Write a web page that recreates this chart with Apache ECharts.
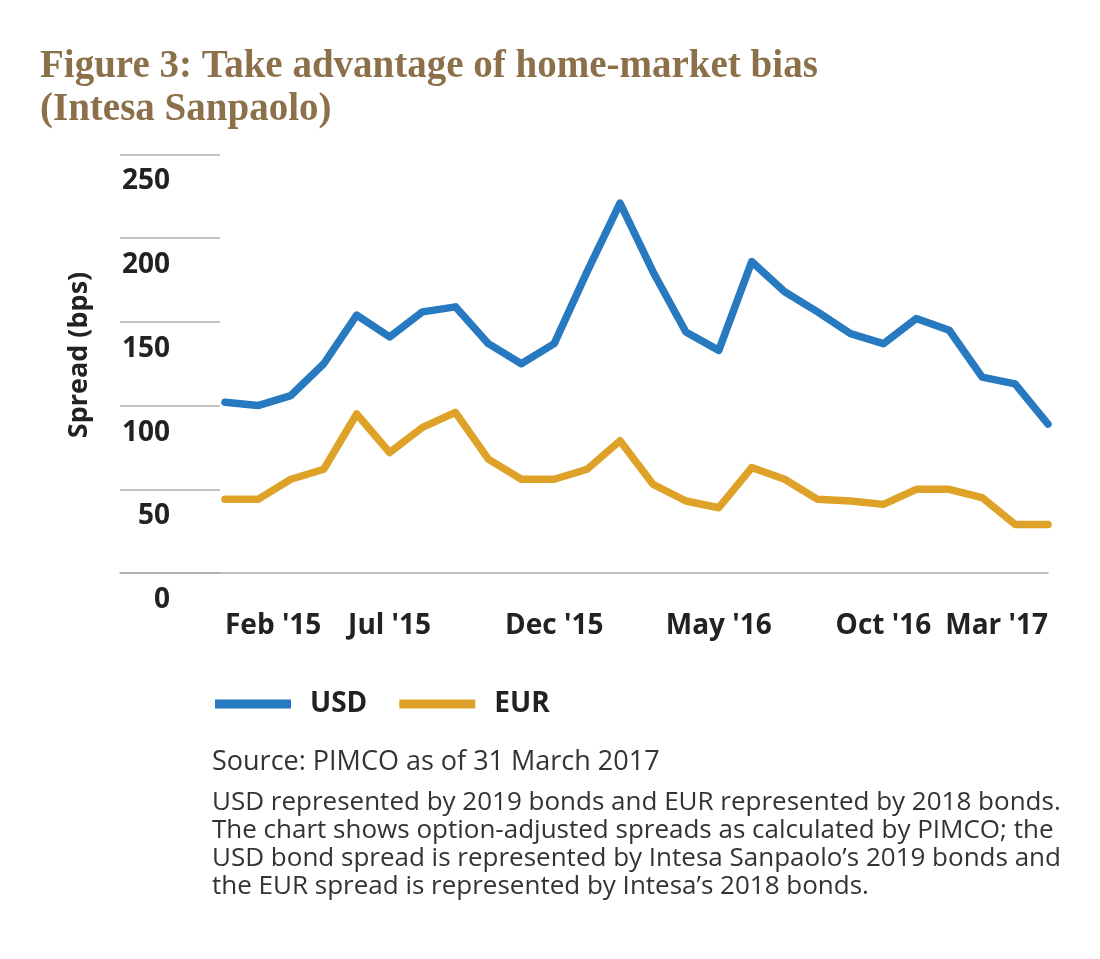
<!DOCTYPE html>
<html>
<head>
<meta charset="utf-8">
<script src="https://cdn.jsdelivr.net/npm/echarts@6/dist/echarts.min.js"></script>
<style>
html,body{margin:0;padding:0;background:#fff;}
#chart{width:1100px;height:959px;}
</style>
</head>
<body>
<div id="chart"></div>
<script>
// ---- data ----
const months = ["Feb '15","Mar '15","Apr '15","May '15","Jun '15","Jul '15","Aug '15","Sep '15","Oct '15","Nov '15","Dec '15",
  "Jan '16","Feb '16","Mar '16","Apr '16","May '16","Jun '16","Jul '16","Aug '16","Sep '16","Oct '16","Nov '16","Dec '16",
  "Jan '17","Feb '17","Mar '17"];
const usd = [102, 100, 106, 125, 154, 141, 156, 159, 137, 125, 137, 180, 221, 180, 144, 133, 186, 168, 156, 143, 137, 152, 145, 117, 113, 89];
const eur = [44, 44, 56, 62, 95, 72, 87, 96, 68, 56, 56, 62, 79, 53, 43, 39, 63, 56, 44, 43, 41, 50, 50, 45, 29, 29];
const seriesNames = ["USD", "EUR"];
const yTicks = [0, 50, 100, 150, 200, 250];
const xLabelIndices = [0, 5, 10, 15, 20, 25];
const titleLines = ["Figure 3: Take advantage of home-market bias", "(Intesa Sanpaolo)"];
const sourceLine = "Source: PIMCO as of 31 March 2017";
const noteLines = [
  "USD represented by 2019 bonds and EUR represented by 2018 bonds.",
  "The chart shows option-adjusted spreads as calculated by PIMCO; the",
  "USD bond spread is represented by Intesa Sanpaolo\u2019s 2019 bonds and",
  "the EUR spread is represented by Intesa\u2019s 2018 bonds."
];
const yAxisName = "Spread (bps)";

// ---- chart ----
const SANS = "'Open Sans', 'Noto Sans', sans-serif";
const SERIF = "'Liberation Serif', 'DejaVu Serif', serif";
const chart = echarts.init(document.getElementById('chart'), null, {renderer: 'canvas'});

const toPairs = arr => arr.map((v, i) => [i, v]);

const graphics = [];
titleLines.forEach((t, i) => {
  graphics.push({
    type: 'text', left: 40, top: 47 + i * 43,
    style: {text: t, font: "bold 39px " + SERIF, fill: '#8C7049'}
  });
});
graphics.push({
  type: 'text', x: 79, y: 355, rotation: Math.PI / 2,
  style: {text: yAxisName, font: "bold 27px " + SANS, fill: '#222', align: 'center', verticalAlign: 'middle'}
});
graphics.push({
  type: 'text', left: 212, top: 749,
  style: {text: sourceLine, font: "27px " + SANS, fill: '#333'}
});
noteLines.forEach((t, i) => {
  graphics.push({
    type: 'text', left: 212, top: 790 + i * 27.7,
    style: {text: t, font: "26px " + SANS, fill: '#333'}
  });
});

const option = {
  animation: false,
  backgroundColor: '#fff',
  graphic: graphics,
  grid: [
    {left: 120, width: 100, top: 154.5, bottom: 386, outerBoundsMode: 'none'},
    {left: 120, right: 52, top: 154.5, bottom: 386, outerBoundsMode: 'none'}
  ],
  legend: {
    left: 215, top: 690, padding: 0,
    icon: 'rect', itemWidth: 76, itemHeight: 9, itemGap: 32,
    data: seriesNames,
    textStyle: {fontFamily: SANS, fontSize: 28, fontWeight: 'bold', color: '#222', padding: [0, 0, 0, 14]}
  },
  xAxis: [
    {gridIndex: 0, type: 'value', show: false, min: 0, max: 1},
    {
      gridIndex: 1, type: 'value', min: -105 / 32.92, max: months.length - 1,
      axisLine: {show: true, lineStyle: {color: '#ababab', width: 1.5}},
      axisTick: {show: false},
      splitLine: {show: false},
      axisLabel: {
        customValues: xLabelIndices,
        formatter: v => months[Math.round(v)],
        fontFamily: SANS, fontSize: 28, fontWeight: 'bold', color: '#222',
        margin: 39,
        alignMinLabel: 'left',
        alignMaxLabel: 'right'
      }
    }
  ],
  yAxis: [
    {
      gridIndex: 0, type: 'value', min: 0, max: 250, interval: 50,
      axisLine: {show: false}, axisTick: {show: false},
      splitLine: {show: true, lineStyle: {color: '#b0b0b0', width: 1.5}},
      axisLabel: {
        customValues: yTicks,
        fontFamily: SANS, fontSize: 28, fontWeight: 'bold', color: '#222',
        margin: -50, align: 'right', verticalAlign: 'top', padding: [13, 0, 0, 0]
      }
    },
    {
      gridIndex: 1, type: 'value', min: 0, max: 250, interval: 50, show: false,
      splitLine: {show: false}
    }
  ],
  series: [
    {
      name: seriesNames[0], type: 'line', xAxisIndex: 1, yAxisIndex: 1,
      data: toPairs(usd), symbol: 'none',
      itemStyle: {color: '#2779C0'},
      lineStyle: {color: '#2779C0', width: 7.5, join: 'round', cap: 'round'}
    },
    {
      name: seriesNames[1], type: 'line', xAxisIndex: 1, yAxisIndex: 1,
      data: toPairs(eur), symbol: 'none',
      itemStyle: {color: '#DEA228'},
      lineStyle: {color: '#DEA228', width: 7.5, join: 'round', cap: 'round'}
    }
  ]
};
chart.setOption(option);
</script>
</body>
</html>
